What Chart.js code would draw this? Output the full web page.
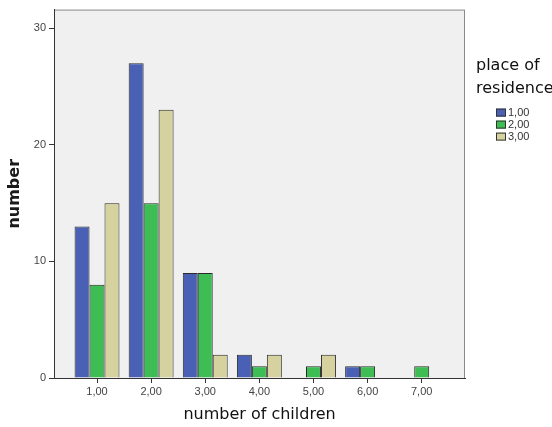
<!DOCTYPE html>
<html>
<head>
<meta charset="utf-8">
<script src="https://cdn.jsdelivr.net/npm/chart.js@4"></script>
<style>
  html, body { margin: 0; padding: 0; background: #fff; }
  #wrap { width: 552px; height: 427px; }
</style>
</head>
<body>
<div id="wrap"><canvas id="c" width="552" height="427"></canvas></div>
<script>
// number of children (x positions) and their tick labels
const categories = [1, 2, 3, 4, 5, 6, 7];
const xTickLabels = ['1,00', '2,00', '3,00', '4,00', '5,00', '6,00', '7,00'];
const yTicks = [0, 10, 20, 30];

// place of residence groups
const seriesNames = ['1,00', '2,00', '3,00'];
const residence1 = [13, 27, 9, 2, null, 1, null];
const residence2 = [8, 15, 9, 1, 1, 1, 1];
const residence3 = [15, 23, 2, 2, 2, null, null];
const seriesColors = ['#4a60b4', '#3dbd54', '#d5d2a0'];

const legendTitle = ['place of', 'residence'];

const toPoints = vals => categories.map((c, i) => ({x: c, y: vals[i]}));

// grey plot frame behind the bars
const frame = {
  id: 'frame',
  beforeDraw(chart) {
    const {ctx, chartArea: a} = chart;
    ctx.save();
    ctx.fillStyle = '#f0f0f0';
    ctx.fillRect(a.left, a.top, a.right - a.left, a.bottom - a.top);
    ctx.strokeStyle = '#8a8a8a';
    ctx.lineWidth = 1;
    ctx.strokeRect(a.left + 0.5, a.top + 0.5, a.right - a.left - 1, a.bottom - a.top);
    ctx.restore();
  }
};

// legend on the right, title in two lines then small boxes
const sideLegend = {
  id: 'sideLegend',
  afterDraw(chart) {
    const {ctx, chartArea: a} = chart;
    ctx.save();
    ctx.textBaseline = 'middle';
    ctx.textAlign = 'left';
    ctx.fillStyle = '#111';
    ctx.font = '16px "DejaVu Sans"';
    legendTitle.forEach((t, i) => ctx.fillText(t, a.right + 11, a.top + 56 + i * 23));
    ctx.font = '11px "Liberation Sans"';
    chart.data.datasets.forEach((ds, i) => {
      const y = a.top + 99 + i * 12;
      ctx.fillStyle = ds.backgroundColor;
      ctx.fillRect(a.right + 31, y, 10, 8);
      ctx.strokeStyle = '#333';
      ctx.strokeRect(a.right + 31.5, y + 0.5, 9, 7);
      ctx.fillStyle = '#333';
      ctx.fillText(ds.label, a.right + 43, y + 4.5);
    });
    ctx.restore();
  }
};

new Chart(document.getElementById('c'), {
  type: 'bar',
  data: {
    datasets: seriesNames.map((name, i) => ({
      label: name,
      data: toPoints([residence1, residence2, residence3][i]),
      backgroundColor: seriesColors[i],
      borderColor: '#2a2a2a',
      borderWidth: 1,
      categoryPercentage: 0.83,
      barPercentage: 1.0
    }))
  },
  options: {
    responsive: false,
    animation: false,
    layout: { padding: { top: 6, right: 87, bottom: 0, left: 0 } },
    plugins: { legend: { display: false }, tooltip: { enabled: false } },
    scales: {
      x: {
        type: 'linear',
        min: 0.205,
        max: 7.8,
        offset: false,
        afterBuildTicks: s => { s.ticks = categories.map(v => ({value: v})); },
        afterFit: s => { s.height = 49; },
        grid: { offset: false, drawOnChartArea: false, drawTicks: true, tickLength: 5, color: '#333' },
        border: { display: true, color: '#333' },
        ticks: {
          padding: 2,
          color: '#444',
          font: { family: 'Liberation Sans', size: 11 },
          callback: v => xTickLabels[categories.indexOf(v)]
        },
        title: {
          display: true,
          text: 'number of children',
          color: '#111',
          font: { family: 'DejaVu Sans', size: 16 },
          padding: { top: 0, bottom: 3 }
        }
      },
      y: {
        min: 0,
        max: 31.6,
        afterBuildTicks: s => { s.ticks = yTicks.map(v => ({value: v})); },
        afterFit: s => { s.width = 54; },
        grid: { drawOnChartArea: false, drawTicks: true, tickLength: 5, color: '#333' },
        border: { display: true, color: '#333' },
        ticks: {
          padding: 3,
          color: '#444',
          font: { family: 'Liberation Sans', size: 11 }
        },
        title: {
          display: true,
          text: 'number',
          color: '#1a1a1a',
          font: { family: 'DejaVu Sans', size: 16, weight: 'bold' },
          padding: { top: 5, bottom: 0 }
        }
      }
    }
  },
  plugins: [frame, sideLegend]
});
</script>
</body>
</html>
